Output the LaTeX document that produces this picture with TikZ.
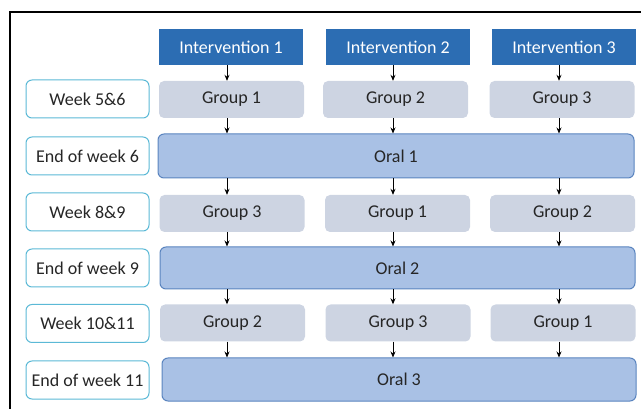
\documentclass[tikz,border=0pt]{standalone}
\usepackage{fontspec}
\setmainfont{Carlito}
\usetikzlibrary{arrows.meta}
\definecolor{intblue}{HTML}{2C6DB3}
\definecolor{grpgray}{HTML}{CDD4E2}
\definecolor{oralfill}{HTML}{A9C1E5}
\definecolor{oraledge}{HTML}{5A84BF}
\definecolor{weekedge}{HTML}{5BB9D6}
\definecolor{txt}{HTML}{262626}

\begin{document}
\begin{tikzpicture}[x=1pt,y=-1pt,
    every node/.style={inner sep=0pt, font=\fontsize{18}{20}\selectfont, text=txt},
    interv/.style={fill=intblue, text=white, minimum width=144pt, minimum height=36pt},
    grp/.style={fill=grpgray, rounded corners=5pt, minimum width=145pt, minimum height=37pt},
    oral/.style={draw=oraledge, line width=1pt, fill=oralfill, rounded corners=6pt, minimum height=43pt},
    week/.style={draw=weekedge, line width=1pt, fill=white, rounded corners=6pt, minimum width=123pt, minimum height=38pt},
    arr/.style={-{Stealth[length=6pt,width=5pt]}, line width=0.8pt, black}]
		\useasboundingbox (0,0) rectangle (641,409);
		\draw[line width=1.2pt] (641,12) -- (10,12) -- (10,409);
		% interventions
		\node (i1) [interv] at (231,47) {Intervention 1};
		\node (i2) [interv] at (398,47) {Intervention 2};
		\node (i3) [interv] at (564,47) {Intervention 3};
		% week labels
		\node (w1) [week] at (87.5,99) {Week 5\&6};
		\node (w2) [week] at (87.5,156) {End of week 6};
		\node (w3) [week] at (87.5,212) {Week 8\&9};
		\node (w4) [week] at (87.5,268) {End of week 9};
		\node (w5) [week] at (87.5,323.5) {Week 10\&11};
		\node (w6) [week] at (87.5,380) {End of week 11};
		% groups and orals
		\node (g11) [grp] at (231.5,99.5) {Group 1};
		\node (g12) [grp] at (395.5,99.5) {Group 2};
		\node (g13) [grp] at (562,99.5) {Group 3};
		\node (o1) [oral, minimum width=476pt, minimum height=44pt] at (396,156) {Oral 1};
		\node (g21) [grp] at (232,213.5) {Group 3};
		\node (g22) [grp] at (397.5,213.5) {Group 1};
		\node (g23) [grp] at (562.5,213.5) {Group 2};
		\node (o2) [oral, minimum width=475pt, minimum height=42pt] at (397.5,268) {Oral 2};
		\node (g31) [grp] at (232.5,323) {Group 2};
		\node (g32) [grp] at (398,323) {Group 3};
		\node (g33) [grp] at (563,323) {Group 1};
		\node (o3) [oral, minimum width=474pt] at (399,379.5) {Oral 3};
		% arrows
		\draw[arr] ([xshift=-4pt]i1.south) -- ([xshift=-4.5pt]g11.north);
		\draw[arr] ([xshift=-5pt]i2.south) -- ([xshift=-2.5pt]g12.north);
		\draw[arr] ([xshift=-5pt]i3.south) -- ([xshift=-3pt]g13.north);
		\draw[arr] ([xshift=-4.5pt]g11.south) -- ([xshift=-4.5pt]g11.south |- o1.north);
		\draw[arr] ([xshift=-2.5pt]g12.south) -- ([xshift=-2.5pt]g12.south |- o1.north);
		\draw[arr] ([xshift=-3pt]g13.south) -- ([xshift=-3pt]g13.south |- o1.north);
		\draw[arr] ([xshift=-5pt]g21.north |- o1.south) -- ([xshift=-5pt]g21.north);
		\draw[arr] ([xshift=-4.5pt]g22.north |- o1.south) -- ([xshift=-4.5pt]g22.north);
		\draw[arr] ([xshift=-3.5pt]g23.north |- o1.south) -- ([xshift=-3.5pt]g23.north);
		\draw[arr] ([xshift=-5pt]g21.south) -- ([xshift=-5pt]g21.south |- o2.north);
		\draw[arr] ([xshift=-4.5pt]g22.south) -- ([xshift=-4.5pt]g22.south |- o2.north);
		\draw[arr] ([xshift=-3.5pt]g23.south) -- ([xshift=-3.5pt]g23.south |- o2.north);
		\draw[arr] ([xshift=-5.5pt]g31.north |- o2.south) -- ([xshift=-5.5pt]g31.north);
		\draw[arr] ([xshift=-5pt]g32.north |- o2.south) -- ([xshift=-5pt]g32.north);
		\draw[arr] ([xshift=-4pt]g33.north |- o2.south) -- ([xshift=-4pt]g33.north);
		\draw[arr] ([xshift=-5.5pt]g31.south) -- ([xshift=-5.5pt]g31.south |- o3.north);
		\draw[arr] ([xshift=-5pt]g32.south) -- ([xshift=-5pt]g32.south |- o3.north);
		\draw[arr] ([xshift=-4pt]g33.south) -- ([xshift=-4pt]g33.south |- o3.north);
\end{tikzpicture}
\end{document}
